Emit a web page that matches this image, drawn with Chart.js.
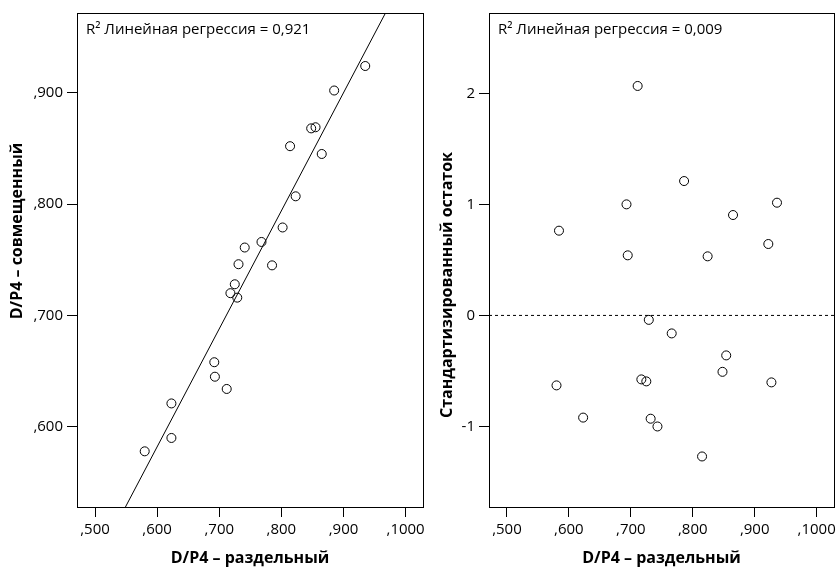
<!DOCTYPE html>
<html>
<head>
<meta charset="utf-8">
<script src="https://cdn.jsdelivr.net/npm/chart.js@4"></script>
<style>
  body { margin: 0; background: #fff; }
  #wrap { position: relative; width: 840px; height: 569px; }
  canvas { position: absolute; top: 0; }
  #left { left: 0; }
  #right { left: 434px; }
</style>
</head>
<body>
<div id="wrap">
  <canvas id="left" width="440" height="569"></canvas>
  <canvas id="right" width="406" height="569"></canvas>
</div>
<script>
// left panel: D/P4 separate vs combined
const sepX = [0.935, 0.885, 0.848, 0.855, 0.814, 0.865, 0.823, 0.802, 0.768, 0.741, 0.731,
  0.785, 0.725, 0.718, 0.729, 0.692, 0.693, 0.712, 0.623, 0.623, 0.580];
const combY = [0.924, 0.902, 0.868, 0.869, 0.852, 0.845, 0.807, 0.779, 0.766, 0.761, 0.746,
  0.745, 0.728, 0.720, 0.716, 0.658, 0.645, 0.634, 0.621, 0.590, 0.578];
const fitX = [0.549, 0.968];
const fitY = [0.528, 0.972];

// right panel: standardized residuals
const residX = [0.711, 0.786, 0.693, 0.936, 0.865, 0.584, 0.695, 0.824, 0.922, 0.729, 0.766,
  0.854, 0.848, 0.927, 0.717, 0.725, 0.580, 0.623, 0.732, 0.743, 0.815];
const residY = [2.066, 1.21, 1.00, 1.015, 0.904, 0.763, 0.541, 0.532, 0.643, -0.04, -0.162,
  -0.36, -0.508, -0.603, -0.576, -0.594, -0.63, -0.92, -0.93, -1.0, -1.27];

const xTicks = [0.5, 0.6, 0.7, 0.8, 0.9, 1.0];
const xTickLabels = [',500', ',600', ',700', ',800', ',900', ',1000'];
const leftYTicks = [0.6, 0.7, 0.8, 0.9];
const leftYTickLabels = [',600', ',700', ',800', ',900'];
const rightYTicks = [-1, 0, 1, 2];
const rightYTickLabels = ['-1', '0', '1', '2'];

const xTitle = 'D/P4 – раздельный';
const leftYTitle = 'D/P4 – совмещенный';
const rightYTitle = 'Стандартизированный остаток';
const leftNote = 'R² Линейная регрессия = 0,921';
const rightNote = 'R² Линейная регрессия = 0,009';

const FONT = '"Open Sans", "Noto Sans", sans-serif';
Chart.defaults.font.family = FONT;
Chart.defaults.font.size = 15;
Chart.defaults.color = '#000';

const toPoints = (xs, ys) => xs.map((x, i) => ({ x: x, y: ys[i] }));

// frame box, R² note and the rotated y title (SPSS puts it off-centre)
const framePlugin = {
  id: 'frame',
  afterDraw(chart, args, opts) {
    const a = chart.chartArea;
    const c = chart.ctx;
    c.save();
    c.strokeStyle = '#000';
    c.lineWidth = 1;
    c.strokeRect(Math.round(a.left) + 0.5, Math.round(a.top) + 0.5,
      Math.round(a.right - a.left), Math.round(a.bottom - a.top));
    c.font = '15px ' + FONT;
    c.fillStyle = '#000';
    c.textBaseline = 'middle';
    c.fillText(opts.text, a.left + 9, a.top + 17);

    c.font = 'bold 16px ' + FONT;
    c.textAlign = 'center';
    c.translate(opts.titleX, opts.titleY);
    c.rotate(-Math.PI / 2);
    c.fillText(opts.yTitle, 0, 0);
    c.restore();
  }
};

function makeScales(yTicks, yLabels, yMin, yMax, yWidth) {
  const tickGrid = { display: true, drawOnChartArea: false, drawTicks: true, tickLength: 10, color: '#000' };
  return {
    x: {
      type: 'linear',
      min: 0.471, max: 1.028,
      border: { display: false },
      grid: tickGrid,
      afterBuildTicks: s => { s.ticks = xTicks.map(v => ({ value: v })); },
      afterFit: s => { s.height = 62; },
      ticks: {
        padding: 4,
        maxRotation: 0,
        autoSkip: false,
        callback: (v, i) => xTickLabels[i]
      },
      title: { display: true, text: xTitle, font: { size: 16, weight: 'bold' }, padding: { top: 0, bottom: 1 } }
    },
    y: {
      type: 'linear',
      min: yMin, max: yMax,
      border: { display: false },
      grid: tickGrid,
      afterBuildTicks: s => { s.ticks = yTicks.map(v => ({ value: v })); },
      afterFit: s => { s.width = yWidth; },
      ticks: {
        padding: 4,
        autoSkip: false,
        callback: (v, i) => yLabels[i]
      }
    }
  };
}

const pointStyle = {
  type: 'scatter',
  pointRadius: 4.5,
  pointBorderWidth: 1,
  pointBorderColor: '#000',
  pointBackgroundColor: 'rgba(0,0,0,0)',
  showLine: false
};

new Chart(document.getElementById('left'), {
  data: {
    datasets: [
      Object.assign({ data: toPoints(sepX, combY) }, pointStyle),
      {
        type: 'line',
        data: toPoints(fitX, fitY),
        borderColor: '#000',
        borderWidth: 1,
        pointRadius: 0,
        fill: false,
        tension: 0
      }
    ]
  },
  options: {
    responsive: false,
    animation: false,
    layout: { padding: { top: 13, right: 17, left: 0, bottom: 0 } },
    plugins: {
      legend: { display: false },
      tooltip: { enabled: false },
      frame: { text: leftNote, yTitle: leftYTitle, titleX: 17, titleY: 231 }
    },
    scales: makeScales(leftYTicks, leftYTickLabels, 0.528, 0.9716, 77)
  },
  plugins: [framePlugin]
});

new Chart(document.getElementById('right'), {
  data: {
    datasets: [
      Object.assign({ data: toPoints(residX, residY) }, pointStyle),
      {
        type: 'line',
        data: [{ x: 0.471, y: 0 }, { x: 1.028, y: 0 }],
        borderColor: '#000',
        borderWidth: 1,
        borderDash: [3, 3],
        pointRadius: 0,
        fill: false
      }
    ]
  },
  options: {
    responsive: false,
    animation: false,
    layout: { padding: { top: 13, right: 5, left: 0, bottom: 0 } },
    plugins: {
      legend: { display: false },
      tooltip: { enabled: false },
      frame: { text: rightNote, yTitle: rightYTitle, titleX: 13, titleY: 285 }
    },
    scales: makeScales(rightYTicks, rightYTickLabels, -1.725, 2.723, 55)
  },
  plugins: [framePlugin]
});
</script>
</body>
</html>
